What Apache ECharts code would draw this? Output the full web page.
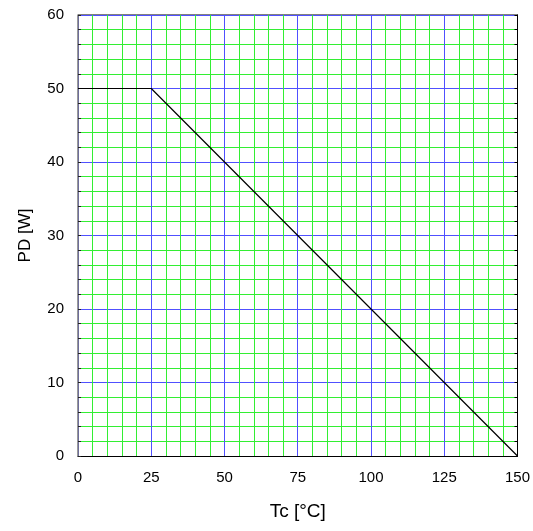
<!DOCTYPE html>
<html>
<head>
<meta charset="utf-8">
<script src="https://cdn.jsdelivr.net/npm/echarts@6/dist/echarts.min.js"></script>
<style>
  html, body { margin: 0; padding: 0; background: #fff; }
  #chart { width: 533px; height: 531px; }
</style>
</head>
<body>
<div id="chart"></div>
<script>
// derating curve: case temperature vs. power dissipation
const tcValues = [0, 25, 150]
const pdValues = [50, 50, 0]
const xTicks = [0, 25, 50, 75, 100, 125, 150]
const yTicks = [0, 10, 20, 30, 40, 50, 60]

const chart = echarts.init(document.getElementById('chart'))

const blue = '#5050ff'
const green = '#33ee33'

const option = {
  animation: false,
  grid: { left: 78, right: 15, top: 15, bottom: 75 },
  xAxis: {
    type: 'value',
    min: xTicks[0],
    max: xTicks[xTicks.length - 1],
    interval: 25,
    name: 'Tc [°C]',
    nameLocation: 'middle',
    nameGap: 46,
    nameTextStyle: { fontFamily: 'Liberation Sans', fontSize: 19, color: '#000' },
    axisLine: { show: true, lineStyle: { color: '#000', width: 1 } },
    axisTick: { show: false },
    axisLabel: { fontFamily: 'Liberation Sans', fontSize: 15, color: '#000', margin: 14 },
    splitLine: { show: true, lineStyle: { color: blue, width: 1 } },
    minorTick: { show: false, splitNumber: 5 },
    minorSplitLine: { show: true, lineStyle: { color: green, width: 1 } }
  },
  yAxis: [
    {
      type: 'value',
      min: yTicks[0],
      max: yTicks[yTicks.length - 1],
      interval: 10,
      name: 'PD [W]',
      nameLocation: 'middle',
      nameGap: 44,
      nameTextStyle: { fontFamily: 'Liberation Sans', fontSize: 17, color: '#000' },
      axisLine: { show: true, lineStyle: { color: '#777', width: 1.5 } },
      axisTick: { show: true, inside: true, length: 3, lineStyle: { color: '#222' } },
      axisLabel: { fontFamily: 'Liberation Sans', fontSize: 15, color: '#000', margin: 14 },
      splitLine: { show: true, lineStyle: { color: blue, width: 1 } },
      minorTick: { show: true, splitNumber: 5, length: 3, lineStyle: { color: '#222' } },
      minorSplitLine: { show: true, lineStyle: { color: green, width: 1 } }
    },
    {
      type: 'value',
      position: 'right',
      min: 0,
      max: 60,
      interval: 10,
      axisLine: { show: true, lineStyle: { color: '#000', width: 1 } },
      axisTick: { show: true, inside: true, length: 3, lineStyle: { color: '#000' } },
      axisLabel: { show: false },
      splitLine: { show: false },
      minorTick: { show: true, splitNumber: 5, length: 3, lineStyle: { color: '#000' } }
    }
  ],
  graphic: [
    { type: 'line', shape: { x1: 78, y1: 15, x2: 518, y2: 15 }, style: { stroke: '#000', lineWidth: 1 } }
  ],
  series: [
    {
      type: 'line',
      data: tcValues.map((t, i) => [t, pdValues[i]]),
      symbol: 'none',
      z: 5,
      lineStyle: { color: '#000', width: 1.2 }
    }
  ]
}

chart.setOption(option)
</script>
</body>
</html>
